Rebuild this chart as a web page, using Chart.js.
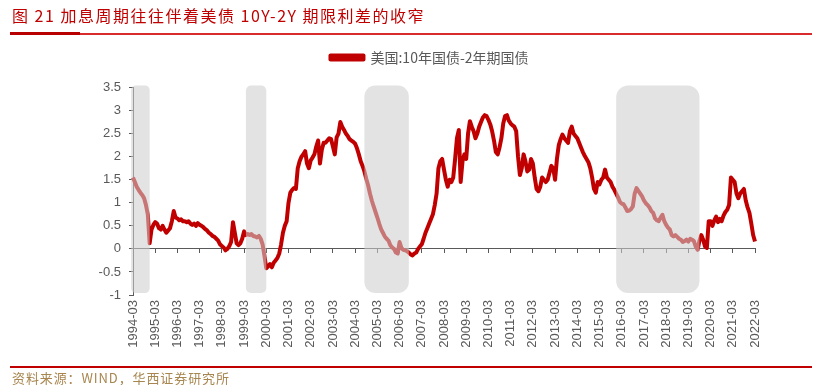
<!DOCTYPE html>
<html>
<head>
<meta charset="utf-8">
<script src="https://cdn.jsdelivr.net/npm/chart.js@4.4.1/dist/chart.umd.min.js"></script>
<style>
  html, body { margin: 0; padding: 0; background: #ffffff; }
  #wrap { position: relative; width: 816px; height: 385px; overflow: hidden; background: #fff; }
  #chartBox { position: absolute; left: 0; top: 0; width: 816px; height: 385px; }
  .title { position: absolute; left: 12px; top: 5px; font-family: "Noto Sans CJK SC", sans-serif; font-size: 16px; line-height: 20px; color: #c00000; letter-spacing: 1.5px; white-space: nowrap; }
  .rule-top { position: absolute; left: 10px; top: 33px; width: 802px; height: 2px; background: #d92b2b; }
  .rule-top-strong { position: absolute; left: 10px; top: 32px; width: 70px; height: 3px; background: #b80000; }
  .rule-bottom { position: absolute; left: 10px; top: 366px; width: 802px; height: 2px; background: #c00000; }
  .source { position: absolute; left: 12px; top: 369px; font-family: "Noto Sans CJK SC", sans-serif; font-size: 13px; line-height: 17px; color: #a8864f; letter-spacing: 0.9px; white-space: nowrap; }
</style>
</head>
<body>
<div id="wrap">
  <div id="chartBox"><canvas id="c"></canvas></div>
  <div class="title">图 21 加息周期往往伴着美债 10Y-2Y 期限利差的收窄</div>
  <div class="rule-top"></div>
  <div class="rule-top-strong"></div>
  <div class="rule-bottom"></div>
  <div class="source">资料来源：WIND，华西证券研究所</div>
</div>
<script>
// ---- data (monthly, 1994-03 .. 2022-03) ----
const seriesName = '美国:10年国债-2年期国债';
const firstYear = 1994, firstMonth = 3;

const spread = [
  1.55,1.45,1.35,1.28,1.22,1.17,1.10,0.95,0.75,0.12,0.42,0.52,   // 1994-03..
  0.58,0.55,0.45,0.42,0.50,0.42,0.35,0.40,0.45,0.60,0.82,0.68,   // 1995-03..
  0.66,0.62,0.64,0.60,0.60,0.58,0.60,0.55,0.52,0.55,0.50,0.56,   // 1996-03..
  0.52,0.50,0.47,0.43,0.40,0.35,0.32,0.28,0.26,0.22,0.18,0.10,   // 1997-03..
  0.06,0.03,-0.03,0.00,0.06,0.15,0.58,0.35,0.12,0.08,0.12,0.22,  // 1998-03..
  0.38,0.30,0.32,0.30,0.32,0.28,0.27,0.25,0.28,0.22,0.10,-0.15,  // 1999-03..
  -0.42,-0.38,-0.33,-0.40,-0.30,-0.25,-0.20,-0.10,0.10,0.35,0.50,0.60, // 2000-03..
  1.00,1.22,1.28,1.32,1.30,1.75,1.90,2.00,2.05,2.12,1.85,1.75,   // 2001-03..
  1.92,1.98,2.05,2.22,2.35,1.85,2.15,2.30,2.30,2.35,2.40,2.38,   // 2002-03..
  2.22,2.05,2.42,2.50,2.75,2.65,2.58,2.50,2.45,2.38,2.35,2.32,   // 2003-03..
  2.28,2.18,2.05,1.90,1.80,1.68,1.52,1.38,1.20,1.05,0.92,0.80,   // 2004-03..
  0.68,0.55,0.43,0.35,0.27,0.22,0.18,0.08,0.03,0.00,-0.08,-0.10, // 2005-03..
  0.15,0.02,-0.02,-0.03,-0.05,-0.08,-0.12,-0.14,-0.10,-0.08,0.00,0.05, // 2006-03..
  0.10,0.22,0.35,0.45,0.55,0.65,0.75,0.95,1.20,1.75,1.90,1.95,   // 2007-03..
  1.72,1.50,1.35,1.50,1.45,1.55,1.95,2.40,2.58,1.45,1.90,2.05,   // 2008-03..
  1.95,2.50,2.77,2.65,2.55,2.40,2.50,2.65,2.75,2.85,2.90,2.88,   // 2009-03..
  2.80,2.70,2.55,2.35,2.10,2.05,2.20,2.40,2.72,2.88,2.90,2.78,   // 2010-03..
  2.72,2.68,2.65,2.55,2.00,1.60,1.75,2.05,1.90,1.68,1.72,1.95,   // 2011-03..
  1.85,1.55,1.30,1.25,1.35,1.55,1.50,1.45,1.50,1.65,1.80,1.75,   // 2012-03..
  1.50,1.95,2.25,2.38,2.48,2.40,2.35,2.30,2.55,2.65,2.50,2.45,   // 2013-03..
  2.40,2.30,2.20,2.10,2.02,1.95,1.88,1.75,1.55,1.30,1.22,1.45,   // 2014-03..
  1.40,1.50,1.55,1.72,1.55,1.50,1.45,1.35,1.28,1.20,1.12,1.02,   // 2015-03..
  0.98,0.97,0.90,0.82,0.83,0.86,0.92,1.20,1.32,1.26,1.20,1.14,   // 2016-03..
  1.05,0.99,0.95,0.90,0.82,0.78,0.66,0.62,0.60,0.68,0.74,0.60,   // 2017-03..
  0.52,0.46,0.42,0.30,0.27,0.30,0.26,0.22,0.20,0.15,0.17,0.20,   // 2018-03..
  0.16,0.22,0.20,0.17,0.05,-0.02,0.18,0.30,0.20,0.05,0.02,0.60,  // 2019-03..
  0.60,0.50,0.62,0.70,0.58,0.65,0.60,0.72,0.80,0.85,0.95,1.55,   // 2020-03..
  1.50,1.45,1.20,1.10,1.20,1.25,1.30,1.05,0.90,0.78,0.55,0.30,   // 2021-03..
  0.16                                                            // 2022-03
];

// categories: one per month
const months = spread.map((_, i) => {
  const t = firstMonth - 1 + i;
  const y = firstYear + Math.floor(t / 12);
  const m = (t % 12) + 1;
  return y + '-' + String(m).padStart(2, '0');
});

// x tick labels
const tickLabels = ['1994-03','1995-03','1996-03','1997-03','1998-03','1999-03','2000-03',
  '2001-03','2002-03','2003-03','2004-03','2005-03','2006-03','2007-03','2008-03','2009-03',
  '2010-03','2011-03','2012-03','2013-03','2014-03','2015-03','2016-03','2017-03','2018-03',
  '2019-03','2020-03','2021-03','2022-03'];

// y tick values
const yTicks = [-1, -0.5, 0, 0.5, 1, 1.5, 2, 2.5, 3, 3.5];

// rate-hike periods shaded in grey
const shadeStart = ['1994-02','1999-04','2004-08','2015-12'];
const shadeEnd   = ['1994-12','2000-03','2006-08','2019-09'];

function monthIndex(s) {
  const [y, m] = s.split('-').map(Number);
  return (y - firstYear) * 12 + (m - firstMonth);
}

const tickIdx = tickLabels.map(monthIndex);
function setTicks(scale) { scale.ticks = tickIdx.map(v => ({ value: v })); }

const shadePlugin = {
  id: 'shades',
  afterDatasetsDraw(chart) {
    const { ctx, chartArea, scales } = chart;
    const xs = scales.x;
    ctx.save();
    ctx.fillStyle = 'rgba(205,205,205,0.57)';
    shadeStart.forEach((s, i) => {
      const x1 = xs.getPixelForValue(monthIndex(s));
      const x2 = xs.getPixelForValue(monthIndex(shadeEnd[i]));
      const top = chartArea.top - 2, bottom = chartArea.bottom - 2;
      const r = Math.min(12, (x2 - x1) / 4);
      ctx.beginPath();
      ctx.roundRect(x1, top, x2 - x1, bottom - top, r);
      ctx.fill();
    });
    ctx.restore();
  }
};

Chart.defaults.font.family = "'Liberation Sans', Arial, sans-serif";
Chart.defaults.font.size = 12;
Chart.defaults.color = '#595959';

new Chart(document.getElementById('c'), {
  type: 'line',
  data: {
    labels: months,
    datasets: [{
      label: seriesName,
      data: spread,
      xAxisID: 'x',
      yAxisID: 'y',
      borderColor: '#c00000',
      backgroundColor: '#c00000',
      borderWidth: 4,
      pointRadius: 0,
      tension: 0,
      borderJoinStyle: 'round'
    }]
  },
  options: {
    responsive: true,
    maintainAspectRatio: false,
    animation: false,
    devicePixelRatio: 1,
    layout: { padding: { left: 93, right: 50, top: 40.5, bottom: 30 } },
    plugins: {
      legend: {
        display: true,
        position: 'top',
        labels: {
          boxWidth: 33,
          boxHeight: 4,
          padding: 10,
          color: '#595959',
          font: { family: "'Noto Sans CJK SC', sans-serif", size: 14 }
        }
      },
      title: {
        display: true,
        text: '',
        weight: 500,
        font: { size: 1, lineHeight: 1 },
        padding: { top: 0, bottom: 12 }
      },
      tooltip: { enabled: false }
    },
    scales: {
      x: {
        type: 'category',
        position: 'bottom',
        afterBuildTicks: setTicks,
        afterFit(scale) { scale.height = 60; },
        grid: { display: false, drawTicks: false },
        border: { display: false },
        ticks: {
          autoSkip: false,
          minRotation: 90,
          maxRotation: 90,
          padding: 5,
          color: '#595959',
          font: { size: 13 },
          callback(v) { return months[v]; }
        }
      },
      x2: {
        type: 'category',
        axis: 'x',
        position: { y: 0 },
        afterBuildTicks: setTicks,
        grid: { display: true, drawOnChartArea: false, drawTicks: true, tickLength: 4, color: '#595959', lineWidth: 1 },
        border: { display: true, color: '#595959', width: 1 },
        ticks: { display: false }
      },
      y: {
        type: 'linear',
        position: 'left',
        min: yTicks[0],
        max: yTicks[yTicks.length - 1],
        afterBuildTicks(scale) { scale.ticks = yTicks.map(v => ({ value: v })); },
        afterFit(scale) { scale.width = 40; },
        grid: { display: true, drawOnChartArea: false, drawTicks: true, tickLength: 4, color: '#595959' },
        border: { display: true, color: '#595959', width: 1 },
        ticks: { padding: 8, color: '#595959', font: { size: 13 }, callback(v) { return String(v); } }
      },
      yPad: {
        type: 'linear',
        position: 'right',
        display: true,
        afterFit(scale) { scale.width = 11; },
        grid: { display: false, drawTicks: false },
        border: { display: false },
        ticks: { display: false }
      }
    }
  },
  plugins: [shadePlugin]
});
</script>
</body>
</html>
